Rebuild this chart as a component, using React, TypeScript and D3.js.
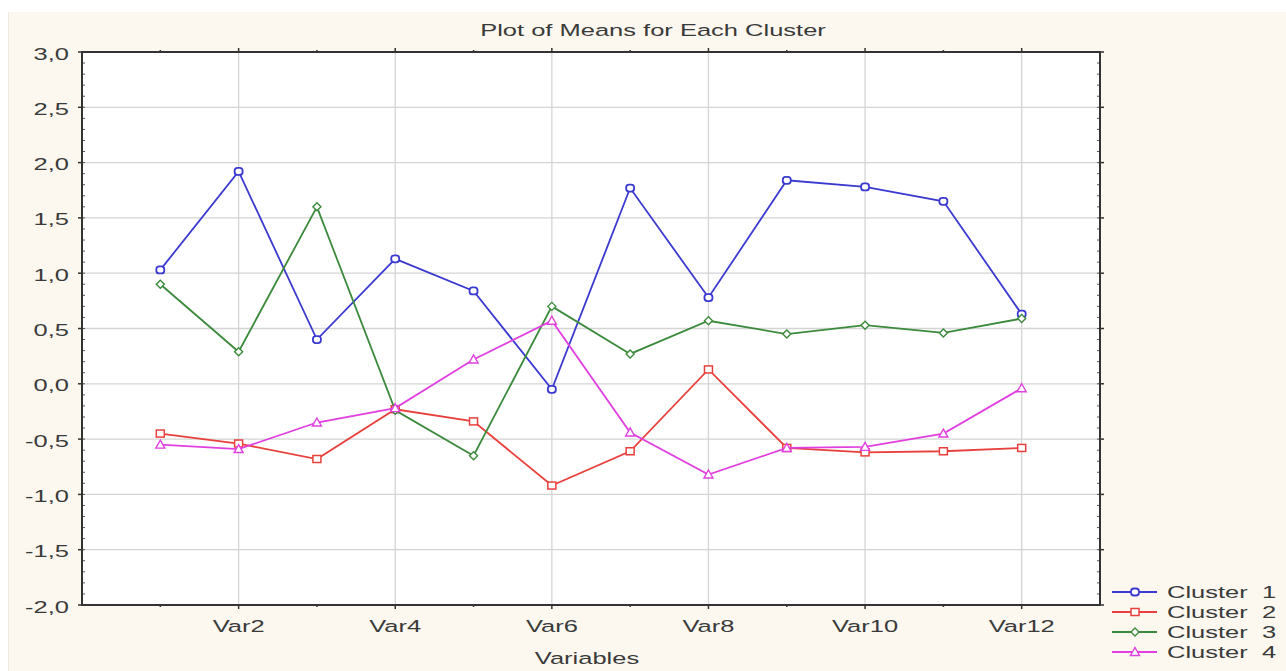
import React from "react";
import * as d3 from "d3";

const variables = ["Var1","Var2","Var3","Var4","Var5","Var6","Var7","Var8","Var9","Var10","Var11","Var12"];
const cluster1 = [1.03, 1.92, 0.40, 1.13, 0.84, -0.05, 1.77, 0.78, 1.84, 1.78, 1.65, 0.63];
const cluster2 = [-0.45, -0.54, -0.68, -0.23, -0.34, -0.92, -0.61, 0.13, -0.58, -0.62, -0.61, -0.58];
const cluster3 = [0.90, 0.29, 1.60, -0.24, -0.65, 0.70, 0.27, 0.57, 0.45, 0.53, 0.46, 0.59];
const cluster4 = [-0.55, -0.59, -0.35, -0.22, 0.22, 0.57, -0.44, -0.82, -0.58, -0.57, -0.45, -0.04];
const seriesNames = ["Cluster  1", "Cluster  2", "Cluster  3", "Cluster  4"];
const yTicks = [-2, -1.5, -1, -0.5, 0, 0.5, 1, 1.5, 2, 2.5, 3];

const colors = ["#3a3ad0", "#e8403c", "#3c8a3c", "#e040e0"];
const markers = ["circle", "square", "diamond", "triangle"];

const W = 1286, H = 671;
const L = 82, R = 1100, T = 52, B = 605;
const font = "'Liberation Sans', Arial, sans-serif";
const SX = 1.5;

function SText({ x, y, anchor, size, children }: { x: number; y: number; anchor: string; size: number; children: any }) {
  return (
    <text transform={`translate(${x},${y}) scale(${SX},1)`} textAnchor={anchor} fontSize={size} fill="#3a3a3a" style={{ whiteSpace: "pre" }}>
      {children}
    </text>
  );
}

function Marker({ type, x, y, color }: { type: string; x: number; y: number; color: string }) {
  if (type === "circle")
    return <rect x={x - 4} y={y - 3.5} width={8} height={7} rx={3} fill="white" stroke={color} strokeWidth={1.8} />;
  if (type === "square")
    return <rect x={x - 4} y={y - 3.5} width={8} height={7} fill="white" stroke={color} strokeWidth={1.5} />;
  if (type === "diamond")
    return <path d={`M${x},${y - 4}L${x + 4},${y}L${x},${y + 4}L${x - 4},${y}Z`} fill="white" stroke={color} strokeWidth={1.4} />;
  return <path d={`M${x},${y - 4.5}L${x + 4.5},${y + 3.5}L${x - 4.5},${y + 3.5}Z`} fill="white" stroke={color} strokeWidth={1.4} />;
}

export default function App() {
  const x = d3.scaleLinear().domain([0, 13]).range([L, R]);
  const y = d3.scaleLinear().domain([-2, 3]).range([B, T]);
  const series = [cluster1, cluster2, cluster3, cluster4];
  const line = d3.line<number>().x((_, i) => x(i + 1)).y((d) => y(d));
  const idx = variables.map((_, i) => i + 1);
  const minorY = d3.range(-2, 3.01, 0.1);

  return (
    <svg width={W} height={H} style={{ position: "fixed", left: 0, top: 0, background: "white" }} fontFamily={font}>
      <rect x={8} y={12} width={W - 8} height={H - 12} fill="#fcf8ef" />
      <line x1={8.5} y1={12} x2={8.5} y2={H} stroke="#ede8de" strokeWidth={1} />
      <rect x={L} y={T} width={R - L} height={B - T} fill="white" />
      {yTicks.map((t) => (
        <line key={"gy" + t} x1={L} x2={R} y1={y(t)} y2={y(t)} stroke="#d4d4d4" strokeWidth={1.3} />
      ))}
      {idx.filter((i) => i % 2 === 0).map((i) => (
        <line key={"gx" + i} x1={x(i)} x2={x(i)} y1={T} y2={B} stroke="#d4d4d4" strokeWidth={1.3} />
      ))}
      {minorY.map((t, k) => (
        <g key={"my" + k}>
          <line x1={L} x2={L + 3} y1={y(t)} y2={y(t)} stroke="#555" strokeWidth={1} />
          <line x1={R} x2={R - 3} y1={y(t)} y2={y(t)} stroke="#555" strokeWidth={1} />
        </g>
      ))}
      {yTicks.map((t) => (
        <g key={"ty" + t}>
          <line x1={L - 4} x2={L} y1={y(t)} y2={y(t)} stroke="#333" strokeWidth={1.5} />
          <line x1={R} x2={R + 4} y1={y(t)} y2={y(t)} stroke="#333" strokeWidth={1.5} />
          <SText x={69} y={y(t) + 7.5} anchor="end" size={17}>
            {d3.format(".1f")(t).replace(".", ",").replace("−", "-")}
          </SText>
        </g>
      ))}
      {idx.map((i) => (
        <g key={"tx" + i}>
          <line x1={x(i)} x2={x(i)} y1={B} y2={B + (i % 2 === 0 ? 4 : 2)} stroke="#333" strokeWidth={1.5} />
          <line x1={x(i)} x2={x(i)} y1={T} y2={T - (i % 2 === 0 ? 4 : 2)} stroke="#333" strokeWidth={1.5} />
          {i % 2 === 0 && (
            <SText x={x(i)} y={632} anchor="middle" size={17}>{variables[i - 1]}</SText>
          )}
        </g>
      ))}
      <rect x={L} y={T} width={R - L} height={B - T} fill="none" stroke="#333" strokeWidth={2} />
      {series.map((s, k) => (
        <g key={"s" + k}>
          <path d={line(s) || ""} fill="none" stroke={colors[k]} strokeWidth={1.8} />
          {s.map((v, i) => (
            <Marker key={i} type={markers[k]} x={x(i + 1)} y={y(v)} color={colors[k]} />
          ))}
        </g>
      ))}
      <SText x={653} y={36} anchor="middle" size={17}>Plot of Means for Each Cluster</SText>
      <SText x={587} y={664} anchor="middle" size={17}>Variables</SText>
      {seriesNames.map((n, k) => {
        const ly = 592 + k * 20;
        return (
          <g key={"lg" + k}>
            <line x1={1112} x2={1157} y1={ly} y2={ly} stroke={colors[k]} strokeWidth={1.8} />
            <Marker type={markers[k]} x={1135} y={ly} color={colors[k]} />
            <SText x={1167} y={ly + 6} anchor="start" size={17}>{n}</SText>
          </g>
        );
      })}
    </svg>
  );
}
